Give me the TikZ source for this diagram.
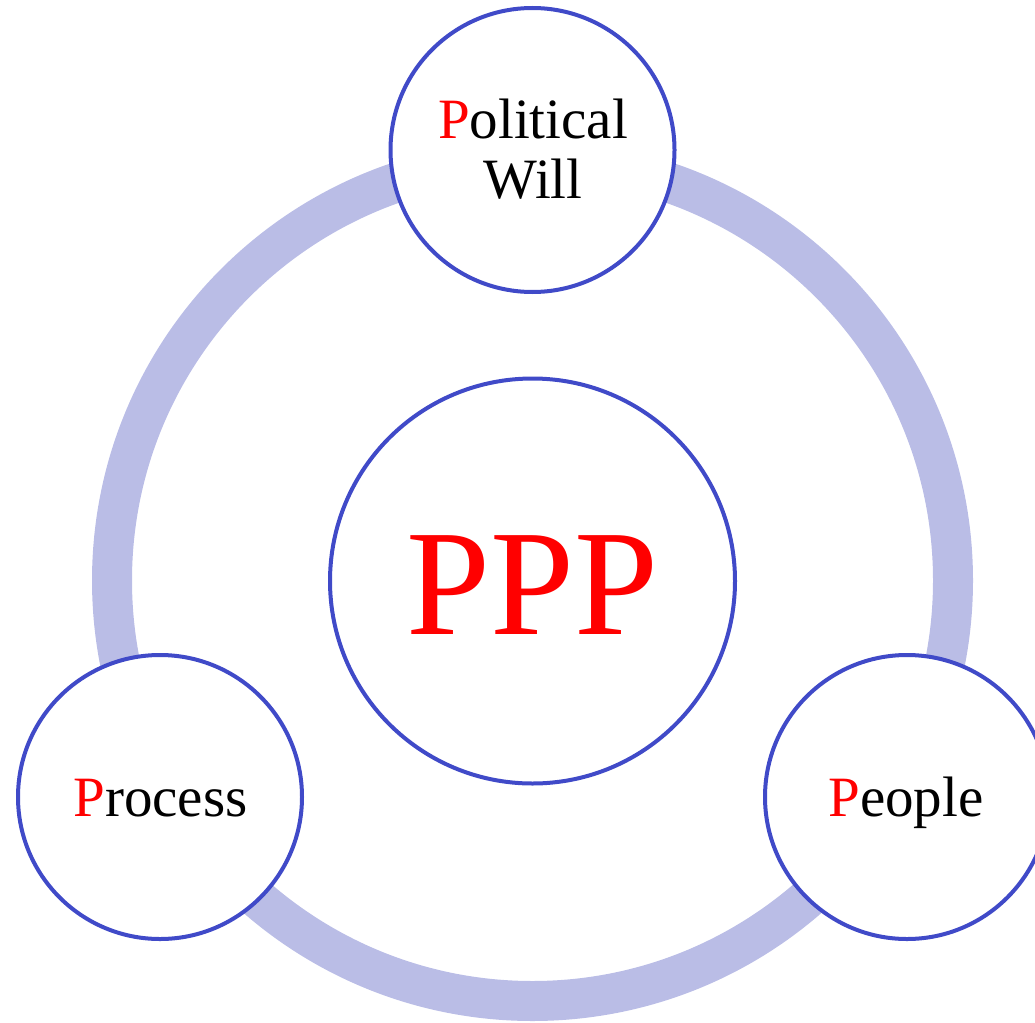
\documentclass[tikz,border=0pt]{standalone}
\usepackage{fontspec}
\setmainfont{Liberation Serif}
\definecolor{ringc}{RGB}{186,189,230}
\definecolor{bluec}{RGB}{64,74,200}
\definecolor{redc}{RGB}{255,0,0}
\begin{document}
\begin{tikzpicture}[x=1pt,y=-1pt,
  pcircle/.style={circle,draw=bluec,line width=4pt,fill=white,inner sep=0pt},
  lbl/.style={anchor=base,inner sep=0pt,font=\fontsize{57}{59}\selectfont},
  big/.style={anchor=base,inner sep=0pt,text=redc,font=\fontsize{151}{151}\selectfont}]
\useasboundingbox (0,0) rectangle (1035,1022);
\coordinate (o) at (532.5,580.5);
\draw[ringc,line width=40pt] (o) circle[radius=420.5pt];
\node[pcircle,minimum size=405pt] (center) at (532.5,581) {};
\node[pcircle,minimum size=284pt] (top) at (532.5,150) {};
\node[pcircle,minimum size=284pt] (left) at (160,797) {};
\node[pcircle,minimum size=284pt] (right) at (907,797) {};
\node[big] (ppp) at (532.5,634) {PPP};
\node[lbl] (pol) at (533,139) {\textcolor{redc}{P}olitical};
\node[lbl] (will) at (533,198) {Will};
\node[lbl] (proc) at (160.5,816) {\textcolor{redc}{P}rocess};
\node[lbl] (peop) at (906,816) {\textcolor{redc}{P}eople};
\end{tikzpicture}
\end{document}
